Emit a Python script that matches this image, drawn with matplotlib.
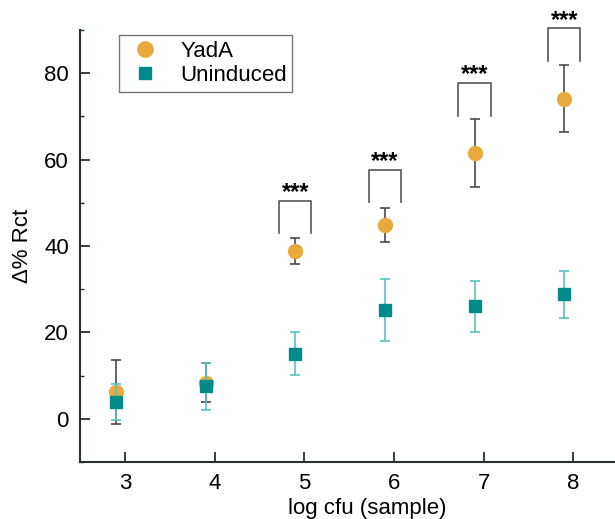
import matplotlib
matplotlib.use("Agg")
import matplotlib.pyplot as plt
from matplotlib.lines import Line2D
from matplotlib.ticker import MultipleLocator
import numpy as np

plt.rcParams['font.family'] = ['Liberation Sans', 'DejaVu Sans']

# data
log_cfu = [3, 4, 5, 6, 7, 8]
yada = [6.2, 8.4, 38.8, 44.9, 61.5, 74.1]
yada_err = [7.4, 4.6, 3.0, 4.0, 7.8, 7.8]
uninduced = [3.9, 7.5, 15.1, 25.1, 26.0, 28.8]
uninduced_err = [4.1, 5.4, 4.9, 7.2, 5.9, 5.5]

# significance brackets (log cfu, top of bracket)
sig_x = [5, 6, 7, 8]
sig_top = [50.5, 57.7, 77.8, 90.5]
sig_label = '***'

c_yada = '#E8AA3C'
c_unind = '#008B8A'
c_unind_err = '#56C2BF'
c_gray = '#4a4a4a'

fig = plt.figure(figsize=(6.15, 5.19), dpi=100)
ax = fig.add_axes([80 / 615, 57 / 519, 574 / 615, 432 / 519])

x = np.array(log_cfu) - 0.1

ax.errorbar(x, yada, yerr=yada_err, fmt='o', color=c_yada, ms=10,
            ecolor=c_gray, elinewidth=1.2, capsize=3.5, capthick=1.2,
            zorder=3)
ax.errorbar(x, uninduced, yerr=uninduced_err, fmt='s', color=c_unind, ms=9,
            ecolor=c_unind_err, elinewidth=1.2, capsize=3.5, capthick=1.2,
            zorder=4)

# brackets with stars
for sx, top in zip(sig_x, sig_top):
    bx = sx - 0.1
    ax.plot([bx - 0.18, bx - 0.18, bx + 0.18, bx + 0.18],
            [top - 7.6, top, top, top - 7.6],
            color='#555555', lw=1.2, clip_on=False, zorder=2)
    ax.text(bx, top + 0.3, sig_label, ha='center', va='baseline',
            fontsize=17, fontweight='bold', clip_on=False)

ax.set_xlim(2.5, 8.9)
ax.set_ylim(-10, 90)
ax.set_xticks(log_cfu)
ax.yaxis.set_major_locator(MultipleLocator(20))
ax.yaxis.set_minor_locator(MultipleLocator(10))

for side in ['top', 'right']:
    ax.spines[side].set_visible(False)
for side in ['left', 'bottom']:
    ax.spines[side].set_linewidth(1.5)
    ax.spines[side].set_color('#263030')

ax.tick_params(axis='both', which='major', direction='in', length=7,
               width=1.3, color='#263030', labelsize=16, pad=8)
ax.tick_params(axis='y', which='minor', direction='in', length=3,
               width=1.0, color='#263030')

ax.set_xlabel('log cfu (sample)', fontsize=16, labelpad=3)
ax.set_ylabel('Δ% Rct', fontsize=16, labelpad=8)

handles = [Line2D([], [], ls='none', marker='o', ms=11, color=c_yada),
           Line2D([], [], ls='none', marker='s', ms=9, color=c_unind)]
leg = ax.legend(handles, ['YadA', 'Uninduced'], loc='upper left',
                bbox_to_anchor=(0.068, 0.988), borderaxespad=0, fontsize=16,
                frameon=True, fancybox=False, handletextpad=0.7,
                borderpad=0.25, labelspacing=0.15, handlelength=1.8)
leg.get_frame().set_edgecolor('#555555')
leg.get_frame().set_linewidth(1.0)

fig.savefig('out.png', dpi=100)
